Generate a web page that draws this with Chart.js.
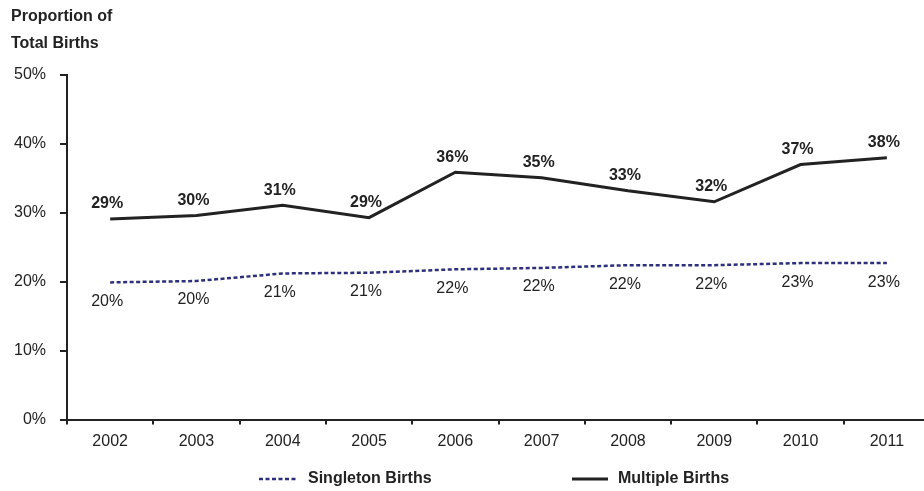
<!DOCTYPE html>
<html>
<head>
<meta charset="utf-8">
<script src="https://cdn.jsdelivr.net/npm/chart.js@4.4.1/dist/chart.umd.min.js"></script>
<style>
  html, body { margin: 0; padding: 0; background: #fff; overflow: hidden; }
  #wrap { width: 924px; height: 491px; overflow: hidden; }
</style>
</head>
<body>
<div id="wrap"><canvas id="birthsChart" width="930" height="491"></canvas></div>
<script>
// datos
const years = ['2002', '2003', '2004', '2005', '2006', '2007', '2008', '2009', '2010', '2011'];
const singletonBirths = [19.9, 20.1, 21.2, 21.3, 21.8, 22.0, 22.4, 22.4, 22.7, 22.7];
const multipleBirths = [29.1, 29.6, 31.1, 29.3, 35.9, 35.1, 33.2, 31.6, 37.0, 38.0];
const yTicks = [0, 10, 20, 30, 40, 50];

const FONT = "'Liberation Sans', Arial, sans-serif";
const INK = '#222222';
const NAVY = '#2b2f7c';

// etiquetas de valor, titulo del eje y leyenda
const extrasPlugin = {
  id: 'extras',
  afterDatasetsDraw(chart) {
    const ctx = chart.ctx;
    ctx.save();
    ctx.textAlign = 'center';
    ctx.textBaseline = 'middle';
    chart.data.datasets.forEach((ds, i) => {
      const meta = chart.getDatasetMeta(i);
      const above = ds.label === 'Multiple Births';
      ctx.font = (above ? 'bold ' : '') + '16px ' + FONT;
      ctx.fillStyle = INK;
      meta.data.forEach((pt, j) => {
        const txt = Math.round(ds.data[j]) + '%';
        ctx.fillText(txt, pt.x - 3, above ? pt.y - 15 : pt.y + 19);
      });
    });
    ctx.restore();
  },
  afterDraw(chart) {
    const ctx = chart.ctx;
    ctx.save();
    ctx.fillStyle = INK;
    ctx.font = 'bold 16px ' + FONT;
    ctx.textAlign = 'left';
    ctx.textBaseline = 'middle';
    ctx.fillText('Proportion of', 11, 17);
    ctx.fillText('Total Births', 11, 44);

    // leyenda
    const ly = 479;
    ctx.lineWidth = 2.5;
    ctx.strokeStyle = NAVY;
    ctx.setLineDash([4, 2.5]);
    ctx.beginPath();
    ctx.moveTo(259, ly);
    ctx.lineTo(297, ly);
    ctx.stroke();
    ctx.setLineDash([]);
    ctx.strokeStyle = INK;
    ctx.lineWidth = 3;
    ctx.beginPath();
    ctx.moveTo(572, ly);
    ctx.lineTo(608, ly);
    ctx.stroke();
    ctx.fillText('Singleton Births', 308, ly);
    ctx.fillText('Multiple Births', 618, ly);
    ctx.restore();
  }
};

const ctx = document.getElementById('birthsChart').getContext('2d');
const birthsChart = new Chart(ctx, {
  type: 'line',
  data: {
    labels: years,
    datasets: [{
      label: 'Singleton Births',
      data: singletonBirths,
      borderColor: NAVY,
      borderWidth: 2.5,
      borderDash: [4, 2.5],
      pointRadius: 0,
      tension: 0,
      fill: false
    }, {
      label: 'Multiple Births',
      data: multipleBirths,
      borderColor: INK,
      borderWidth: 3,
      pointRadius: 0,
      tension: 0,
      fill: false
    }]
  },
  options: {
    responsive: false,
    animation: false,
    devicePixelRatio: 1,
    layout: { padding: { top: 75, bottom: 40, left: 0, right: 0 } },
    plugins: {
      legend: { display: false },
      title: { display: false },
      tooltip: { enabled: false }
    },
    scales: {
      x: {
        offset: true,
        grid: { offset: true, drawOnChartArea: false, drawTicks: true, tickLength: 5, color: INK, lineWidth: 2 },
        border: { display: true, color: INK, width: 2 },
        ticks: { color: INK, font: { family: FONT, size: 16 }, padding: 7, maxRotation: 0 },
        afterFit(scale) { scale.height = 31.5; }
      },
      y: {
        min: 0,
        max: 50,
        afterBuildTicks(scale) { scale.ticks = yTicks.map(v => ({ value: v })); },
        grid: { drawOnChartArea: false, drawTicks: true, tickLength: 7, color: INK, lineWidth: 2 },
        border: { display: true, color: INK, width: 2 },
        ticks: { color: INK, font: { family: FONT, size: 16 }, padding: 14, callback: v => v + '%' },
        afterFit(scale) { scale.width = 67; }
      }
    }
  },
  plugins: [extrasPlugin]
});
</script>
</body>
</html>
